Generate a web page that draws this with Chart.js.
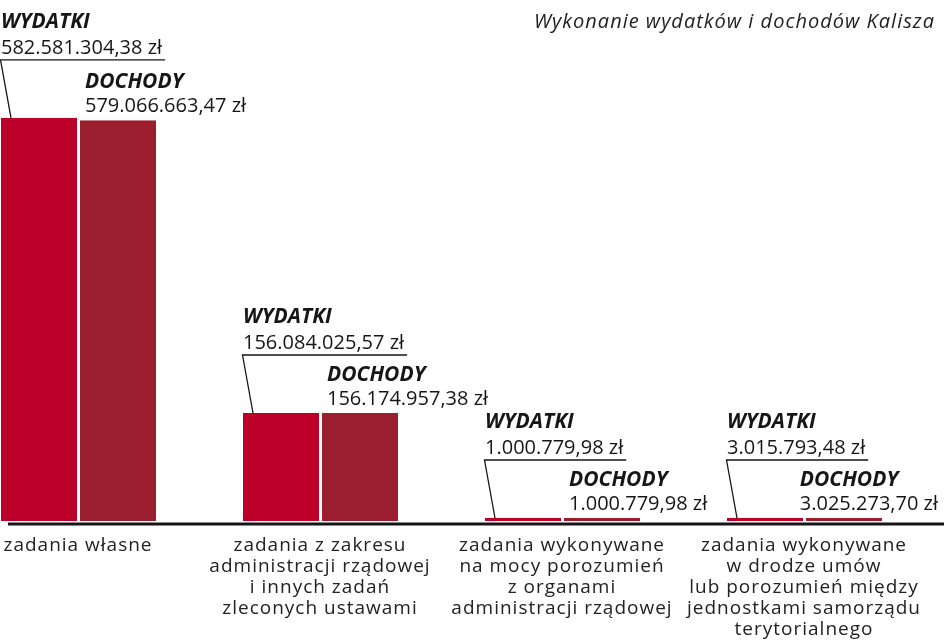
<!DOCTYPE html>
<html lang="pl">
<head>
<meta charset="utf-8">
<title>Wykonanie wydatków i dochodów Kalisza</title>
<script src="https://cdn.jsdelivr.net/npm/chart.js@4/dist/chart.umd.min.js"></script>
<style>
  html, body { margin: 0; padding: 0; background: #fff; }
  #wrap { position: relative; width: 944px; height: 640px; }
  #title {
    position: absolute; right: 9px; top: 7px;
    font: italic 20px "Open Sans", sans-serif; letter-spacing: 1px; color: #222;
  }
</style>
</head>
<body>
<div id="wrap">
  <canvas id="chart" width="944" height="640"></canvas>
  <div id="title">Wykonanie wydatków i dochodów Kalisza</div>
</div>
<script>
// data
const categories = [
  ['zadania własne'],
  ['zadania z zakresu', 'administracji rządowej', 'i innych zadań', 'zleconych ustawami'],
  ['zadania wykonywane', 'na mocy porozumień', 'z organami', 'administracji rządowej'],
  ['zadania wykonywane', 'w drodze umów', 'lub porozumień między', 'jednostkami samorządu', 'terytorialnego']
];
const seriesNames = ['WYDATKI', 'DOCHODY'];
const wydatki = [582581304.38, 156084025.57, 1000779.98, 3015793.48];
const dochody = [579066663.47, 156174957.38, 1000779.98, 3025273.70];

const FONT = '"Open Sans", sans-serif';
const RED = '#bc0029';
const DARK_RED = '#9b1e2e';
const INK = '#161616';

function formatZl(v) {
  const parts = v.toFixed(2).split('.');
  return parts[0].replace(/\B(?=(\d{3})+(?!\d))/g, '.') + ',' + parts[1] + ' zł';
}

// a little tracking for the category labels (the original face is wider)
const tracking = {
  id: 'tracking',
  beforeUpdate(chart) { chart.ctx.letterSpacing = '1px'; },
  beforeDraw(chart) { chart.ctx.letterSpacing = '1px'; }
};

// thick base line under the bars
const baseLine = {
  id: 'baseLine',
  afterDatasetsDraw(chart) {
    const ctx = chart.ctx;
    const y = chart.scales.y.getPixelForValue(0) + 3;
    ctx.save();
    ctx.strokeStyle = INK;
    ctx.lineWidth = 3;
    ctx.beginPath();
    ctx.moveTo(8, y);
    ctx.lineTo(chart.width, y);
    ctx.stroke();
    ctx.restore();
  }
};

// value labels with leader lines
const barLabels = {
  id: 'barLabels',
  afterDatasetsDraw(chart) {
    const ctx = chart.ctx;
    const bars1 = chart.getDatasetMeta(0).data;
    const bars2 = chart.getDatasetMeta(1).data;
    const maxRight = chart.width - 6;
    ctx.save();
    ctx.letterSpacing = '0px';
    ctx.fillStyle = INK;
    ctx.strokeStyle = INK;
    ctx.textAlign = 'left';
    ctx.textBaseline = 'alphabetic';

    bars1.forEach((bar, i) => {
      // WYDATKI
      const left = bar.x - bar.width / 2 + 2;
      const top = bar.y;
      const lineY = top - 58;
      const valY = lineY - 6;
      ctx.font = 'italic bold 21px ' + FONT;
      ctx.fillText(seriesNames[0], left, valY - 26);
      ctx.font = '20px ' + FONT;
      const txt = formatZl(wydatki[i]);
      ctx.fillText(txt, left, valY);
      const w = ctx.measureText(txt).width;
      ctx.lineWidth = 1.3;
      ctx.beginPath();
      ctx.moveTo(left + w + 3, lineY);
      ctx.lineTo(left - 0.5, lineY);
      ctx.lineTo(left + 10, top);
      ctx.stroke();

      // DOCHODY
      const bar2 = bars2[i];
      const txt2 = formatZl(dochody[i]);
      const w2 = ctx.measureText(txt2).width;
      const left2 = Math.min(bar2.x - bar2.width / 2 + 2 + 5, maxRight - w2);
      const valY2 = bar2.y - 8;
      ctx.fillText(txt2, left2, valY2);
      ctx.font = 'italic bold 21px ' + FONT;
      ctx.fillText(seriesNames[1], left2, valY2 - 24);
    });
    ctx.restore();
  }
};

const barStyle = {
  barThickness: 79,
  borderWidth: { left: 2, right: 1, top: 0, bottom: 0 },
  borderColor: '#ffffff',
  borderSkipped: false,
  inflateAmount: 0,
  minBarLength: 3,
  clip: false
};

new Chart(document.getElementById('chart'), {
  type: 'bar',
  data: {
    labels: categories,
    datasets: [
      Object.assign({ label: seriesNames[0], data: wydatki, backgroundColor: RED }, barStyle),
      Object.assign({ label: seriesNames[1], data: dochody, backgroundColor: DARK_RED }, barStyle)
    ]
  },
  options: {
    responsive: false,
    animation: false,
    devicePixelRatio: 1,
    layout: { padding: { left: 78, right: 140, top: 0, bottom: -14 } },
    plugins: {
      legend: { display: false },
      tooltip: { enabled: false }
    },
    scales: {
      x: {
        offset: false,
        grid: { display: false, drawTicks: false },
        border: { display: false },
        afterFit(scale) {
          // labels may overflow into the side padding
          scale.paddingLeft = 0;
          scale.paddingRight = 0;
        },
        ticks: {
          autoSkip: false,
          maxRotation: 0,
          padding: 14,
          color: '#222',
          font: { family: FONT, size: 19, lineHeight: '21px' }
        }
      },
      y: {
        display: false,
        min: 0,
        max: 753000000
      }
    }
  },
  plugins: [tracking, baseLine, barLabels]
});
</script>
</body>
</html>
